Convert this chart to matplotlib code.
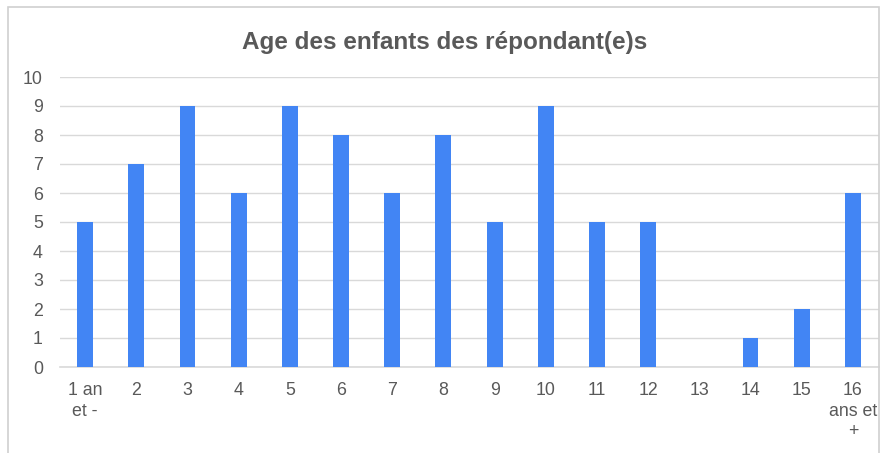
import matplotlib
matplotlib.use("Agg")
import matplotlib.pyplot as plt
from matplotlib.patches import Rectangle

plt.rcParams['font.family'] = ['Liberation Sans', 'DejaVu Sans']

# data
categories = ["1 an\net -", "2", "3", "4", "5", "6", "7", "8", "9", "10",
              "11", "12", "13", "14", "15", "16\nans et\n+"]
counts = [5, 7, 9, 6, 9, 8, 6, 8, 5, 9, 5, 5, 0, 1, 2, 6]
yticks = list(range(0, 11))

BAR = "#4285F4"
TXT = "#595959"
GRID = "#d9d9d9"

fig = plt.figure(figsize=(8.9, 4.53), dpi=100)
# light frame around the chart
fig.patches.append(Rectangle((8 / 890, -0.05), 871 / 890, 1.05 - 7 / 453,
                             transform=fig.transFigure, fill=False,
                             edgecolor="#d0d0d0", linewidth=1.2))

ax = fig.add_axes([59.5 / 890, 86 / 453, 819 / 890, 290 / 453])
x = list(range(len(categories)))
ax.bar(x, counts, width=0.31, color=BAR, zorder=3)

ax.set_xlim(-0.5, len(categories) - 0.5)
ax.set_ylim(0, 10)
ax.set_yticks(yticks)
ax.set_xticks(x)
ax.set_xticklabels(categories, linespacing=1.25)
ax.tick_params(axis="both", length=0, labelsize=12.8, colors=TXT)
ax.tick_params(axis="x", pad=11)
ax.tick_params(axis="y", pad=12)

ax.grid(axis="y", color=GRID, linewidth=1, zorder=0)
for s in ["top", "right", "left"]:
    ax.spines[s].set_visible(False)
ax.spines["bottom"].set_color(GRID)
ax.spines["bottom"].set_linewidth(1.2)

fig.text(0.5, 1 - 42 / 453, "Age des enfants des répondant(e)s",
         ha="center", va="center", fontsize=17.5, fontweight="bold", color=TXT)

fig.savefig("out.png", dpi=100)
